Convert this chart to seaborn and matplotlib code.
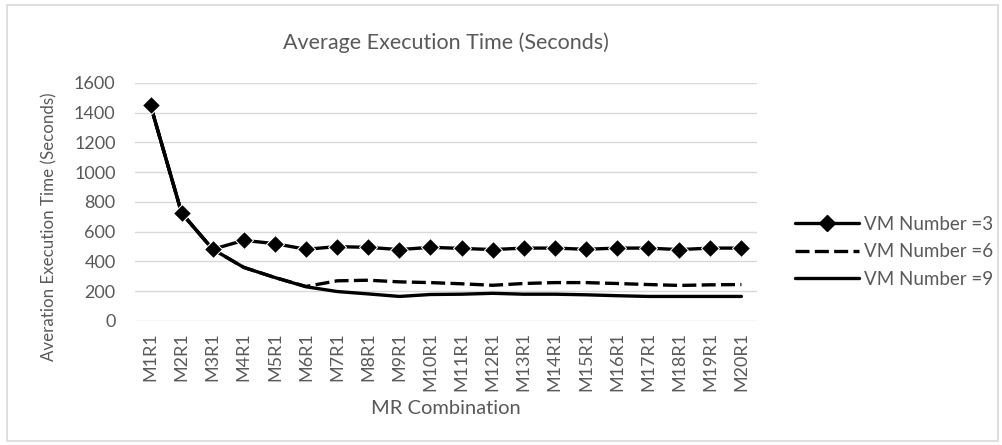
import matplotlib
matplotlib.use("Agg")
import matplotlib.pyplot as plt
import seaborn as sns
import pandas as pd
from matplotlib.lines import Line2D
from matplotlib.patches import Rectangle

combos = [f"M{i}R1" for i in range(1, 21)]
vm3 = [1450, 725, 482, 542, 520, 482, 500, 495, 480, 495,
       488, 480, 490, 490, 482, 490, 490, 480, 490, 490]
vm6 = [1450, 725, 482, 360, 292, 232, 270, 274, 263, 258,
       250, 240, 252, 258, 258, 252, 245, 239, 243, 245]
vm9 = [1450, 725, 482, 360, 292, 230, 198, 182, 165, 178,
       180, 186, 180, 180, 176, 170, 165, 165, 165, 165]
series_names = ["VM Number =3", "VM Number =6", "VM Number =9"]

df = pd.DataFrame({"combo": combos, series_names[0]: vm3,
                   series_names[1]: vm6, series_names[2]: vm9})

sns.set_style("white")
plt.rcParams["font.family"] = ["Lato", "DejaVu Sans"]
grey = "#595959"

fig = plt.figure(figsize=(10.03, 4.45), dpi=100)
ax = fig.add_axes([0.1346, 0.2787, 0.6201, 0.5348])

lw = 2.4
# dashed series first so the solid curve hides the shared start
sns.lineplot(data=df, x="combo", y=series_names[1], ax=ax, color="black",
             lw=lw, sort=False)
ax.lines[-1].set_dashes((4.2, 1.6))
sns.lineplot(data=df, x="combo", y=series_names[2], ax=ax, color="black",
             lw=lw, sort=False)
sns.lineplot(data=df, x="combo", y=series_names[0], ax=ax, color="black",
             lw=lw, marker="D", markersize=9, sort=False)

ax.set_xlim(-0.5, len(combos) - 0.5)
ax.set_ylim(0, 1600)
ax.set_yticks(range(0, 1601, 200))
ax.grid(axis="y", color="#d9d9d9", lw=1)
ax.grid(axis="x", visible=False)
for s in ax.spines.values():
    s.set_visible(False)
ax.tick_params(axis="y", length=0, pad=14, labelsize=13, labelcolor=grey)
ax.tick_params(axis="x", length=0, pad=8, labelsize=13, labelcolor=grey,
               labelrotation=90)
ax.set_xlabel("")
ax.set_ylabel("")

fig.text(0.4447, 0.905, "Average Execution Time (Seconds)", ha="center",
         va="center", fontsize=15.5, color=grey)
fig.text(0.4447, 0.081, "MR Combination", ha="center", va="center",
         fontsize=14.5, color=grey)
fig.text(0.049, 0.49, "Averation Execution Time (Seconds)", ha="center",
         va="center", rotation=90, fontsize=12.2, color=grey)

handles = [
    Line2D([], [], color="black", lw=lw, marker="D", markersize=8),
    Line2D([], [], color="black", lw=lw, dashes=(4.2, 1.6)),
    Line2D([], [], color="black", lw=lw),
]
leg = fig.legend(handles, series_names, loc="center left",
                 bbox_to_anchor=(0.783, 0.434), frameon=False, fontsize=13.5,
                 handlelength=3.45, numpoints=1, labelspacing=0.55,
                 handletextpad=0.25, borderpad=0)
for t in leg.get_texts():
    t.set_color(grey)

fig.patches.append(Rectangle((0.007, 0.01), 0.988, 0.978,
                             transform=fig.transFigure, fill=False,
                             edgecolor="#d9d9d9", lw=1.2))

fig.savefig("out.png", dpi=100)
